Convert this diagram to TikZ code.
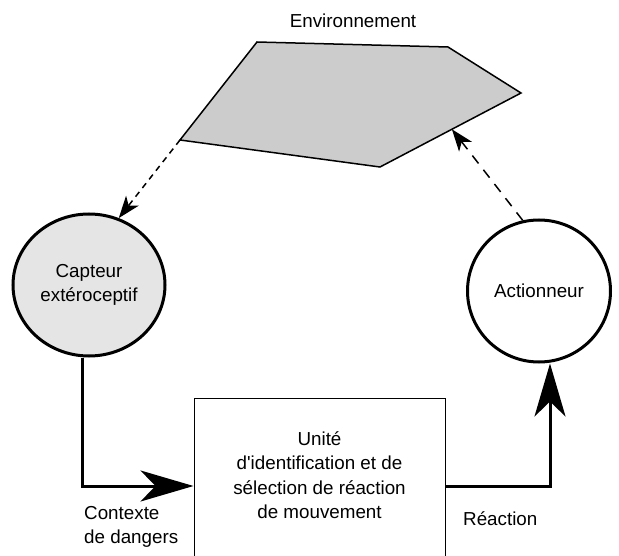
\documentclass[tikz,border=0pt]{standalone}
\usepackage{fontspec}
\setmainfont{Liberation Sans}
\usetikzlibrary{shapes.geometric,arrows.meta,calc}

\begin{document}
\begin{tikzpicture}[
    x=1pt, y=-1pt,
    font=\fontsize{18.8}{24.5}\selectfont,
    organe/.style={draw, ellipse, line width=3pt, align=center, inner sep=0pt},
    capteurstyle/.style={organe, fill=black!10},
    bloc/.style={draw, line width=1pt, minimum width=251pt, minimum height=190pt, inner sep=0pt},
    etiquette/.style={inner sep=0pt, align=left},
    flux/.style={line width=3pt, -{Stealth[length=53pt, width=31pt, inset=15pt]}},
    lien/.style={line width=1.5pt, -{Stealth[length=22pt, width=16pt, inset=6pt]}}
  ]
  \useasboundingbox (0,0) rectangle (619,556);

  % Environnement
  \coordinate (p1) at (257,42);
  \coordinate (p2) at (448,47);
  \coordinate (p3) at (521,93);
  \coordinate (p4) at (380,167);
  \coordinate (p5) at (180,140);
  \draw[fill=black!20, line width=1.5pt, line join=miter] (p1) -- (p2) -- (p3) -- (p4) -- (p5) -- cycle;
  \node[anchor=base] (envlabel) at (353,28) {Environnement};

  % Organes
  \node[capteurstyle, minimum width=152pt, minimum height=142pt] (capteur) at (89,285) {Capteur\\extéroceptif};
  \node[organe, minimum width=143pt, minimum height=142pt] (actionneur) at (539,291) {Actionneur};

  % Unite de selection
  \node[bloc, anchor=north] (bloc) at (319.5,398) {};
  \node[anchor=north, inner sep=0pt, align=center] (unite) at (319.5,431)
    {Unité\\d\textquotesingle identification et de\\sélection de réaction\\de mouvement};

  % Labels
  \node[etiquette, anchor=north west] (contexte) at (84,506) {Contexte\\de dangers};
  \node[etiquette, anchor=base west] (reaction) at (463,525) {Réaction};

  % Connecteurs
  \coordinate (niveau) at (0,486);
  \draw[flux] ([xshift=-7pt]capteur.south) |- (bloc.west |- niveau);
  \draw[flux] (bloc.east |- niveau) -| ([xshift=11pt]actionneur.south);
  \draw[lien, dash pattern=on 6pt off 5pt] (p5) -- (capteur.66);
  \draw[lien, dash pattern=on 10pt off 8pt] (actionneur.103) -- ($(p3)!0.49!(p4)$);
\end{tikzpicture}
\end{document}
